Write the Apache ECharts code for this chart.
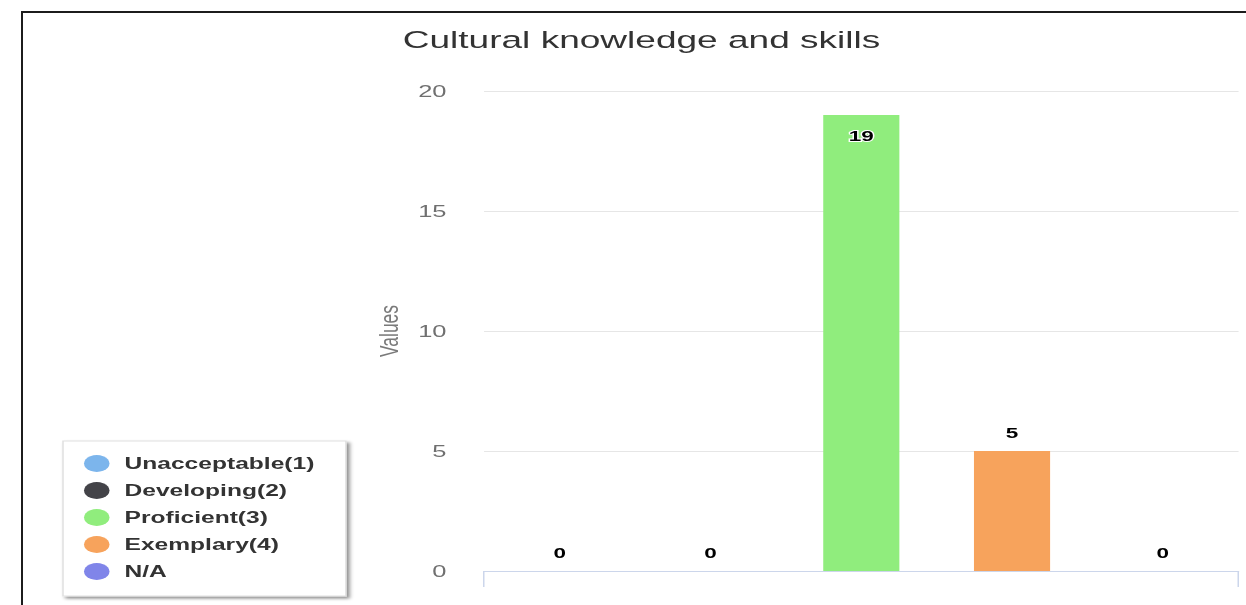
<!DOCTYPE html>
<html>
<head>
<meta charset="utf-8">
<script src="https://cdn.jsdelivr.net/npm/echarts@6/dist/echarts.min.js"></script>
<style>
  html, body { margin: 0; padding: 0; background: #fff; overflow: hidden; }
  #frame { position: absolute; left: 21px; top: 11px; right: 0; bottom: 0;
           border-top: 2px solid #1c1c1c; border-left: 2px solid #1c1c1c; pointer-events: none; z-index: 2; }
  #chart { position: absolute; left: 0; top: 0; width: 830.667px; height: 605px;
           transform: scaleX(1.5); transform-origin: 0 0; }
</style>
</head>
<body>
<div id="chart"></div>
<div id="frame"></div>
<script>
// ---- data ----
const chartTitle = 'Cultural knowledge and skills';
const categories = ['Cultural knowledge and skills'];
const seriesNames = ['Unacceptable(1)', 'Developing(2)', 'Proficient(3)', 'Exemplary(4)', 'N/A'];
const seriesValues = [0, 0, 19, 5, 0];
const yTickValues = [0, 5, 10, 15, 20];
const yAxisName = 'Values';

// ---- styles ----
const palette = ['#7cb5ec', '#434348', '#90ed7d', '#f7a35c', '#8085e9'];
const FONT = '"Liberation Sans", Arial, Helvetica, sans-serif';

const yMin = yTickValues[0];
const yMax = yTickValues[yTickValues.length - 1];
const yInterval = yTickValues[1] - yTickValues[0];

const chart = echarts.init(document.getElementById('chart'), null, { renderer: 'svg' });

const series = seriesNames.map((name, i) => {
  const v = seriesValues[i];
  const inside = v >= 0.9 * yMax;
  return {
    name: name,
    type: 'bar',
    barGap: '98%',
    barCategoryGap: '10%',
    data: [{
      value: v,
      label: inside ? { position: 'insideTop', distance: 13 } : { position: 'top' }
    }],
    label: {
      show: true,
      distance: 11,
      fontFamily: FONT,
      fontSize: 15,
      fontWeight: 'bold',
      color: '#000',
      textBorderColor: '#fff',
      textBorderWidth: 2
    },
    emphasis: { disabled: true }
  };
});

const option = {
  animation: false,
  color: palette,
  title: {
    text: chartTitle,
    left: 268.5,
    top: 27,
    padding: 0,
    textStyle: { fontFamily: FONT, fontSize: 24.7, fontWeight: 'normal', color: '#333' }
  },
  legend: {
    orient: 'vertical',
    left: 42,
    top: 441,
    padding: [14, 21, 16, 14],
    itemWidth: 27,
    itemHeight: 17,
    itemGap: 10,
    icon: 'circle',
    backgroundColor: '#fff',
    borderColor: '#e0e0e0',
    borderWidth: 1,
    shadowColor: 'rgba(0,0,0,0.45)',
    shadowBlur: 3,
    shadowOffsetX: 2,
    shadowOffsetY: 2,
    selectedMode: false,
    textStyle: { fontFamily: FONT, fontSize: 16.4, fontWeight: 'bold', color: '#333' },
    data: seriesNames
  },
  grid: { left: 322.7, right: 5.3, top: 91, bottom: 34, containLabel: false },
  xAxis: {
    type: 'category',
    data: categories,
    boundaryGap: true,
    axisLine: { show: true, lineStyle: { color: '#ccd6eb', width: 1 } },
    axisTick: { show: true, length: 16, lineStyle: { color: '#ccd6eb' } },
    axisLabel: { show: false },
    splitLine: { show: false }
  },
  yAxis: {
    type: 'value',
    min: yMin,
    max: yMax,
    interval: yInterval,
    name: yAxisName,
    nameLocation: 'middle',
    nameRotate: 90,
    nameGap: 54,
    nameMoveOverlap: false,
    nameTextStyle: { fontFamily: FONT, fontSize: 17.5, color: '#7a7a7a' },
    axisLine: { show: false },
    axisTick: { show: false },
    axisLabel: { margin: 25, fontFamily: FONT, fontSize: 17, color: '#707070' },
    splitLine: { show: true, lineStyle: { color: '#e6e6e6', width: 1 } }
  },
  series: series
};

chart.setOption(option);
</script>
</body>
</html>
